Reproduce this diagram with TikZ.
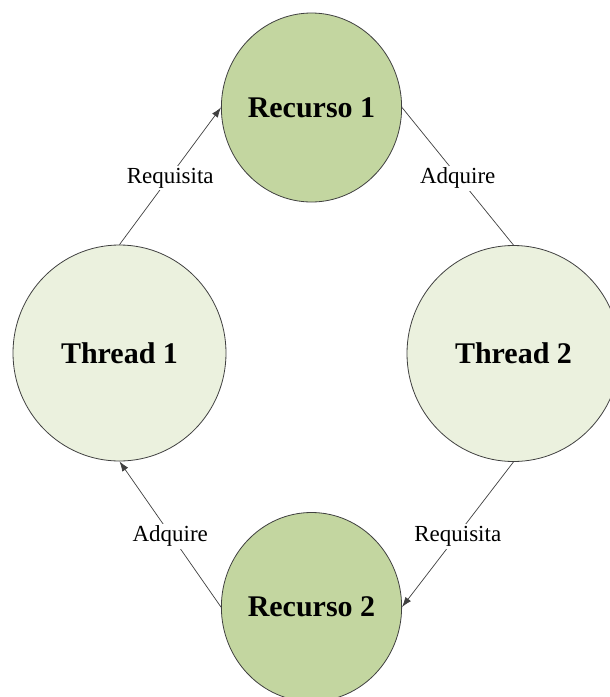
\documentclass[tikz,border=0pt]{standalone}
\usepackage{fontspec}
\setmainfont{Liberation Serif}
\usetikzlibrary{shapes.geometric,arrows.meta}
\definecolor{resfill}{RGB}{195,214,160}
\definecolor{thrfill}{RGB}{235,241,222}
\definecolor{edgegray}{RGB}{64,64,64}
\tikzset{
  resnode/.style={ellipse, draw=edgegray, line width=0.8pt, fill=resfill, minimum width=177pt, minimum height=189pt, inner sep=0pt, font=\fontsize{30}{34}\selectfont\bfseries},
  thrnode/.style={ellipse, draw=edgegray, line width=0.8pt, fill=thrfill, minimum width=213pt, minimum height=216pt, inner sep=0pt, font=\fontsize{30}{34}\selectfont\bfseries},
  conn/.style={draw=edgegray, line width=0.7pt},
  arr/.style={conn, -{Latex[length=10pt,width=7pt]}},
  lbl/.style={midway, fill=white, inner sep=2pt, yshift=-2pt, font=\fontsize{23}{26}\selectfont}
}
\begin{document}
\begin{tikzpicture}[x=1pt,y=-1pt]
\useasboundingbox (0,0) rectangle (610,697);
\clip (0,0) rectangle (610,697);
\fill[white] (0,0) rectangle (610,697);
\node[resnode] (r1) at (311.5,107.5) {Recurso 1};
\node[thrnode] (t1) at (119.5,353) {Thread 1};
\node[thrnode] (t2) at (513.5,353.5) {Thread 2};
\node[resnode] (r2) at (311.5,607) {Recurso 2};
\draw[arr] (t1.north) -- node[lbl] {Requisita} (r1.west);
\draw[conn] (r1.east) -- node[lbl] {Adquire} (t2.north);
\draw[arr] (t2.south) -- node[lbl] {Requisita} (r2.east);
\draw[arr] (r2.west) -- node[lbl] {Adquire} (t1.south);
\end{tikzpicture}
\end{document}
